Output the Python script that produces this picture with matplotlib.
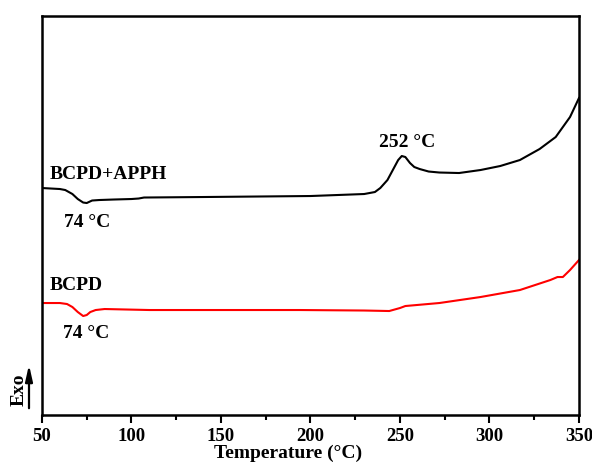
import matplotlib
matplotlib.use("Agg")
import matplotlib.pyplot as plt
from matplotlib.ticker import MultipleLocator

# Data (heat flow, arbitrary units)
t_apph = [50, 60, 63, 67, 70, 73, 75, 78, 82, 90, 100, 104, 107, 140, 200, 230, 236,
          239, 243, 246, 249, 251, 253, 255.6, 258, 261, 266, 272, 283, 295, 306, 317,
          328, 337, 345, 350]
hf_apph = [2.27, 2.26, 2.25, 2.21, 2.16, 2.125, 2.12, 2.145, 2.15, 2.155, 2.16, 2.165,
           2.175, 2.18, 2.19, 2.21, 2.23, 2.27, 2.35, 2.45, 2.55, 2.59, 2.58, 2.52, 2.48,
           2.46, 2.435, 2.425, 2.42, 2.45, 2.49, 2.55, 2.66, 2.78, 2.98, 3.17]

t_bcpd = [50, 60, 64, 67, 70, 73, 75, 77, 80, 85, 110, 194, 230, 244, 250, 253, 272,
          295, 317, 334, 338, 341, 345, 350]
hf_bcpd = [1.12, 1.12, 1.11, 1.08, 1.03, 0.99, 1.00, 1.03, 1.05, 1.06, 1.05, 1.05,
           1.045, 1.04, 1.07, 1.09, 1.12, 1.18, 1.25, 1.35, 1.38, 1.38, 1.45, 1.55]

x_ticks = [50, 100, 150, 200, 250, 300, 350]

plt.rcParams['font.family'] = ['Liberation Serif', 'DejaVu Serif']
plt.rcParams['font.weight'] = 'bold'

fig = plt.figure(figsize=(5.92, 4.67), dpi=100)
ax = fig.add_axes([0.0709, 0.1113, 0.9071, 0.8544])

ax.plot(t_apph, hf_apph, color='black', lw=1.5)
ax.plot(t_bcpd, hf_bcpd, color='red', lw=1.5)

ax.set_xlim(50, 350)
ax.set_ylim(0, 3.99)
ax.set_xticks(x_ticks)
ax.xaxis.set_minor_locator(MultipleLocator(25))
ax.set_yticks([])
ax.tick_params(axis='x', which='major', direction='out', length=6, width=1.5,
               labelsize=13.5, pad=3.5)
ax.tick_params(axis='x', which='minor', direction='out', length=3.5, width=1.5)
for lab in ax.get_xticklabels():
    lab.set_fontweight('bold')
for s in ax.spines.values():
    s.set_linewidth(1.8)

ax.set_xlabel('Temperature (\u00b0C)', fontsize=14, fontweight='bold', labelpad=1)
ax.xaxis.set_label_coords(0.458, -0.075)

ax.text(54.5, 2.41, 'BCPD+APPH', fontsize=14, fontweight='bold', va='center', ha='left')
ax.text(62.3, 1.93, '74 \u00b0C', fontsize=14, fontweight='bold', va='center', ha='left')
ax.text(54.5, 1.30, 'BCPD', fontsize=14, fontweight='bold', va='center', ha='left')
ax.text(61.7, 0.82, '74 \u00b0C', fontsize=14, fontweight='bold', va='center', ha='left')
ax.text(254, 2.73, '252 \u00b0C', fontsize=14, fontweight='bold', va='center', ha='center')

fig.text(19/592, 1 - 390/467, 'Exo', rotation=90, fontsize=14, fontweight='bold',
         ha='center', va='center')
fig.add_artist(matplotlib.patches.FancyArrowPatch(
    (29/592, 1 - 411/467), (29/592, 1 - 362/467), transform=fig.transFigure,
    arrowstyle='-|>,head_length=0.8,head_width=0.18', mutation_scale=12, lw=1.6,
    color='black'))

fig.savefig('out.png', dpi=100)
